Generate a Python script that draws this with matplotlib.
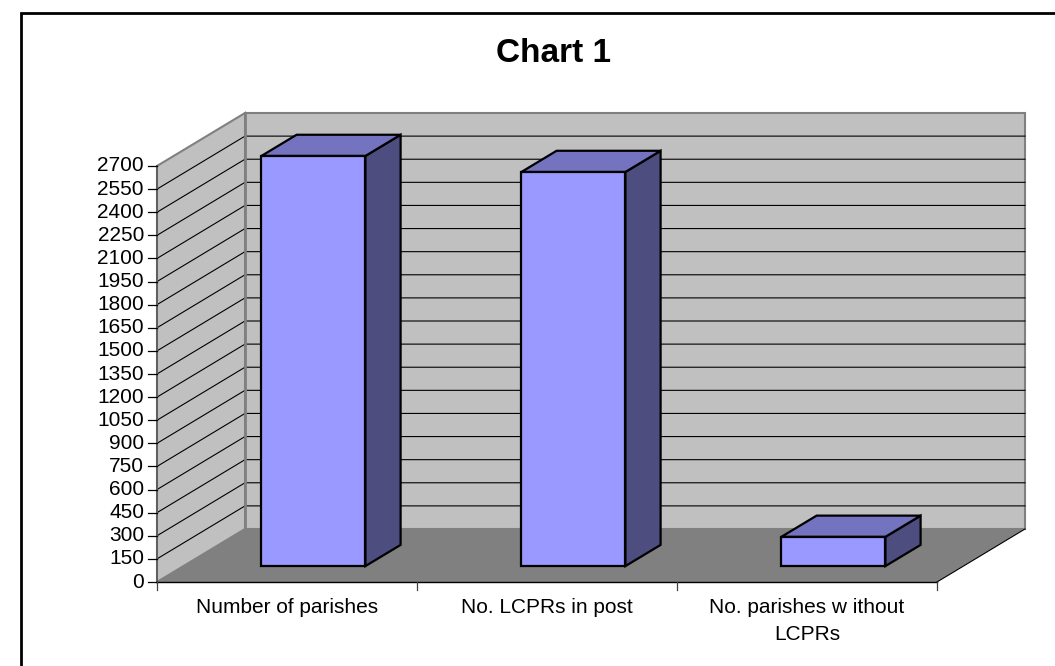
import matplotlib
matplotlib.use('Agg')
import matplotlib.pyplot as plt
from matplotlib.patches import Polygon

plt.rcParams['font.family'] = ['Liberation Sans', 'DejaVu Sans']

title = 'Chart 1'
categories = ['Number of parishes', 'No. LCPRs in post', 'No. parishes w ithout\nLCPRs']
values = [2662, 2558, 190]
y_ticks = [0, 150, 300, 450, 600, 750, 900, 1050, 1200, 1350, 1500, 1650, 1800,
           1950, 2100, 2250, 2400, 2550, 2700]

W, H = 1055, 666
X0, Y0 = 157, 582      # front left corner of the floor
CAT_W = 260
DX, DY = 88, -53       # full depth of the box
PX_PER_UNIT = 416 / 2700


def proj(cat, val, depth):
    return (X0 + cat * CAT_W + depth * DX, Y0 - val * PX_PER_UNIT + depth * DY)


fig = plt.figure(figsize=(W / 100, H / 100), dpi=100)
ax = fig.add_axes([0, 0, 1, 1])
ax.set_xlim(0, W)
ax.set_ylim(H, 0)
ax.axis('off')

# frame: only the top and left sides show, running off the picture
ax.plot([21, 21, W], [H, 13, 13], color='black', lw=2.0, solid_joinstyle='miter')
ax.text(553, 54, title, fontsize=24, fontweight='bold', ha='center', va='center')

ncat = len(categories)
top = y_ticks[-1]
edge = '#808080'

# walls and floor
ax.add_patch(Polygon([proj(0, 0, 1), proj(ncat, 0, 1), proj(ncat, top, 1), proj(0, top, 1)],
                     fc='#c0c0c0', ec=edge, lw=1.5, zorder=1))
ax.add_patch(Polygon([proj(0, 0, 0), proj(0, 0, 1), proj(0, top, 1), proj(0, top, 0)],
                     fc='#c0c0c0', ec=edge, lw=1.5, zorder=1))
ax.add_patch(Polygon([proj(0, 0, 0), proj(ncat, 0, 0), proj(ncat, 0, 1), proj(0, 0, 1)],
                     fc='#808080', ec='none', zorder=1))

# gridlines
for v in y_ticks[1:-1]:
    a, b, c = proj(0, v, 0), proj(0, v, 1), proj(ncat, v, 1)
    ax.plot([a[0], b[0], c[0]], [a[1], b[1], c[1]], color='black', lw=0.8, zorder=2)

# wall corner over the gridlines
a, b = proj(0, 0, 1), proj(0, top, 1)
ax.plot([a[0], b[0]], [a[1], b[1]], color=edge, lw=2.0, zorder=3)

# axis lines, ticks and labels
a, b = proj(0, 0, 0), proj(0, top, 0)
ax.plot([a[0], b[0]], [a[1], b[1]], color='#606060', lw=1.4, zorder=3)
a, b = proj(0, 0, 0), proj(ncat, 0, 0)
ax.plot([a[0], b[0]], [a[1], b[1]], color='black', lw=1.0, zorder=3)
a, b = proj(ncat, 0, 0), proj(ncat, 0, 1)
ax.plot([a[0], b[0]], [a[1], b[1]], color='black', lw=0.8, zorder=3)
for v in y_ticks:
    x, y = proj(0, v, 0)
    ax.plot([x - 9, x], [y, y], color='black', lw=0.9, zorder=3)
    ax.text(x - 13, y, str(v), fontsize=15, ha='right', va='center')
for i in range(ncat + 1):
    x, y = proj(i, 0, 0)
    ax.plot([x, x], [y, y + 8], color='#404040', lw=0.9, zorder=3)

# bars
for i, (cat, val) in enumerate(zip(categories, values)):
    l, r, f, k = i + 0.3, i + 0.7, 0.3, 0.7
    ax.add_patch(Polygon([proj(r, 0, f), proj(r, 0, k), proj(r, val, k), proj(r, val, f)],
                         fc='#4d4d7f', ec='black', lw=1.6, joinstyle='miter', zorder=4))
    ax.add_patch(Polygon([proj(l, val, f), proj(r, val, f), proj(r, val, k), proj(l, val, k)],
                         fc='#7373bf', ec='black', lw=1.6, joinstyle='miter', zorder=4))
    ax.add_patch(Polygon([proj(l, 0, f), proj(r, 0, f), proj(r, val, f), proj(l, val, f)],
                         fc='#9999ff', ec='black', lw=1.6, joinstyle='miter', zorder=5))
    x, y = proj(i + 0.5, 0, 0)
    ax.text(x, y + 16, cat, fontsize=15, ha='center', va='top', linespacing=1.55)

fig.savefig('out.png', dpi=100)
